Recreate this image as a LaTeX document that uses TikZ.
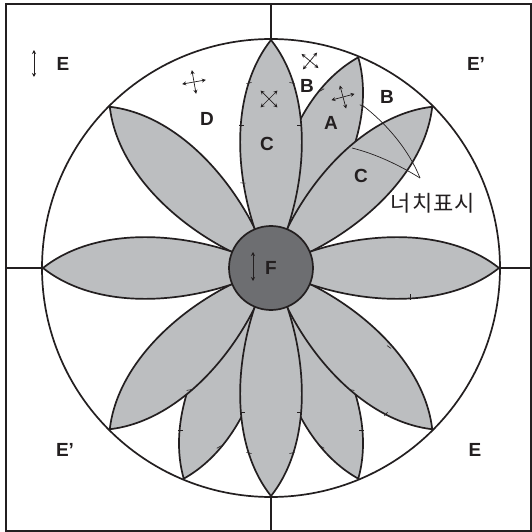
\documentclass[tikz,border=0pt]{standalone}
\usepackage{xcolor}
\usepackage{fontspec}
\setmainfont{Liberation Sans}
\newfontfamily\krfont[LetterSpace=5]{Noto Sans CJK KR}
\usetikzlibrary{arrows.meta,calc}
\definecolor{inkdark}{HTML}{231F20}
\definecolor{petalgray}{HTML}{BCBEC0}
\definecolor{hubgray}{HTML}{6D6E71}
\tikzset{
  petal/.style={draw=inkdark,fill=petalgray,line width=1.7pt},
  rimline/.style={draw=inkdark,line width=1.7pt},
  notch/.style={draw=inkdark,line width=0.6pt},
  leader/.style={draw=inkdark,line width=0.7pt},
  axisarrow/.style={draw=inkdark,line width=0.7pt,{Stealth[length=4pt,width=4pt]}-{Stealth[length=4pt,width=4pt]}},
  zone/.style={font=\fontsize{19}{19}\selectfont\bfseries,text=inkdark,inner sep=0pt}
}
\newcommand{\flower}[1]{\path[petal,rotate=#1] (0,0) .. controls (36,70) and (46,170) .. (0,228) .. controls (-46,170) and (-36,70) .. (0,0) -- cycle;}
\newcommand{\crossarrows}[4]{\begin{scope}[shift={(#1,#2)},rotate=#3]
\draw[axisarrow] (-#4,0) -- (#4,0);
\draw[axisarrow] (0,-#4) -- (0,#4);
\end{scope}}
\begin{document}
\begin{tikzpicture}[x=1pt,y=1pt]
\useasboundingbox (-271,-264) rectangle (261,268);
% frame and rim
\draw[rimline] (-265,264) rectangle (260,-263);
\draw[rimline] (0,264) -- (0,-263) (-265,0) -- (260,0);
\path[fill=white,draw=inkdark,line width=1.7pt] (0,0) circle (229);
% petals
\foreach \a in {-22.5,157.5,-157.5} {\flower{\a}}
\foreach \a in {-45,45,-135,135,90,-90,0,180} {\flower{\a}}
% notches on the edges
\foreach \x/\y/\a in {-22/185/12,-30/143/0,-28/85/-5,21/185/-12,28/143/0,51/178/30,91/162/-30,
  -29/-144/0,28/-144/0,-22/-185/-12,21/-185/12,-91/-162/0,-52/-179/30,-82/-122/10,
  90/-162/0,51/-179/-30,81/-122/-10,118/-79/-35,115/-146/50,139/-29/90}
  {\draw[notch] (\x,\y) ++(\a:2.5) -- ++(\a+180:5);}
% hub
\node[circle,draw=inkdark,fill=hubgray,line width=1.7pt,minimum size=84pt,inner sep=0pt] (hub) at (0,0) {};
\draw[axisarrow] (-18,16) -- (-18,-13);
\node[zone] (lblF) at (0,0) {F};
% leaders
\coordinate (leadA) at (91,163);
\coordinate (leadC) at (81,120);
\coordinate (leadEnd) at (149,90);
\draw[leader] (leadA) .. controls (115,145) and (138,118) .. (leadEnd);
\draw[leader] (leadC) .. controls (105,114) and (128,103) .. (leadEnd);
\node[text=inkdark,inner sep=0pt] (lblNotch) at (162,65) {\krfont\fontsize{22}{22}\selectfont 너치표시};
% arrows
\crossarrows{-77}{186}{10}{12}
\crossarrows{72}{171}{15}{12}
\crossarrows{-2}{169}{45}{12}
\crossarrows{39}{207}{50}{11}
\draw[axisarrow] (-237,218) -- (-237,191);
% labels
\node[zone] (lblE1) at (-208,204) {E};
\node[zone] (lblB1) at (36,182) {B};
\node[zone] (lblA) at (60,145) {A};
\node[zone] (lblC1) at (-4,124) {C};
\node[zone] (lblD) at (-64,149) {D};
\node[zone] (lblB2) at (116,171) {B};
\node[zone] (lblC2) at (90,92) {C};
\node[zone] (lblE2) at (205,204) {E’};
\node[zone] (lblE3) at (-206,-182) {E’};
\node[zone] (lblE4) at (204,-182) {E};
\end{tikzpicture}
\end{document}
